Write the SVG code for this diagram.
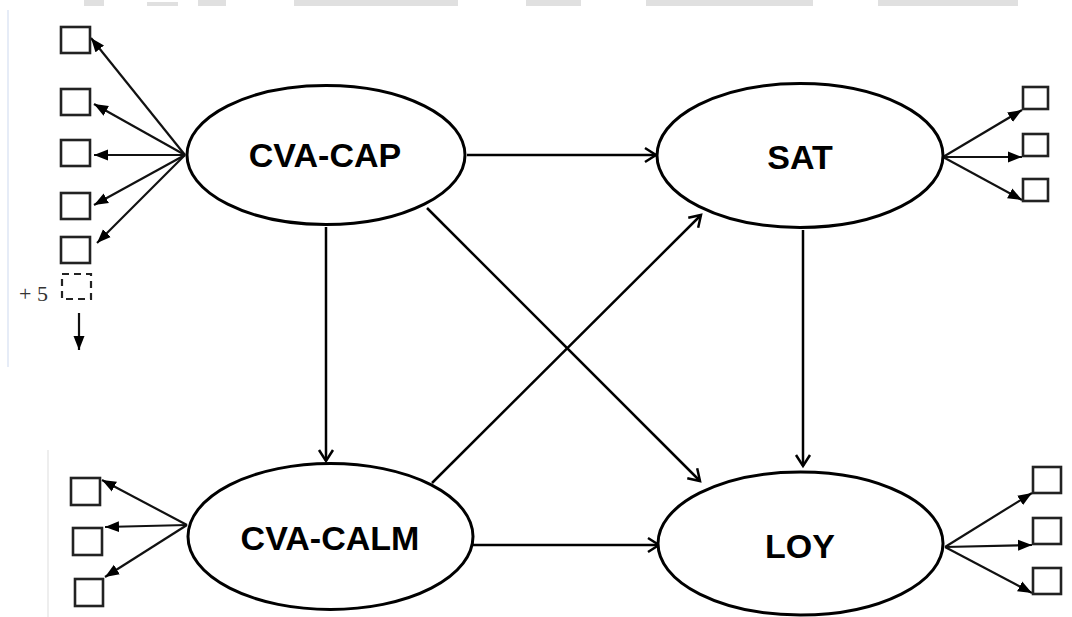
<svg xmlns="http://www.w3.org/2000/svg" width="1072" height="617" viewBox="0 0 1072 617">
<style>
.ell{fill:#fff;stroke:#000;stroke-width:3}
.lbl{font-family:"Liberation Sans",Arial,sans-serif;font-weight:bold;font-size:34px;text-anchor:middle;fill:#000}
.box{fill:#fff;stroke:#222;stroke-width:2.6}
.main{stroke:#000;stroke-width:2.5;fill:none;marker-end:url(#open)}
.ind{stroke:#111;stroke-width:2.2;fill:none;marker-end:url(#tri)}
.faint{fill:#e0e0e0}
</style>
<defs>
<marker id="open" markerWidth="16" markerHeight="18" refX="13" refY="9" orient="auto" markerUnits="userSpaceOnUse">
<path d="M2,2 L13,9 L2,16" fill="none" stroke="#000" stroke-width="2.5"/>
</marker>
<marker id="tri" markerWidth="15" markerHeight="12" refX="14" refY="6" orient="auto" markerUnits="userSpaceOnUse">
<path d="M0,0.5 L14,6 L0,11.5 z" fill="#000"/>
</marker>
</defs>
<rect width="1072" height="617" fill="#fff"/>
<g id="artifacts">
<rect class="faint" x="84" y="0" width="20" height="6"/>
<rect class="faint" x="147" y="2" width="31" height="4"/>
<rect class="faint" x="198" y="0" width="28" height="6"/>
<rect class="faint" x="294" y="0" width="164" height="6"/>
<rect class="faint" x="526" y="0" width="55" height="6"/>
<rect class="faint" x="646" y="0" width="167" height="6"/>
<rect class="faint" x="878" y="0" width="140" height="6"/>
<line x1="8" y1="10" x2="8" y2="367" stroke="#e6ecf7" stroke-width="2"/>
<line x1="48" y1="450" x2="48" y2="617" stroke="#eeeeee" stroke-width="2"/>
</g>
<g id="connectors">
<line class="main" x1="467" y1="155" x2="656" y2="155"/>
<line class="main" x1="326" y1="227" x2="326" y2="461"/>
<line class="main" x1="427" y1="208" x2="700" y2="481"/>
<line class="main" x1="432" y1="483" x2="701" y2="215"/>
<line class="main" x1="803" y1="230" x2="803" y2="466"/>
<line class="main" x1="472" y1="545" x2="659" y2="545"/>
<line class="ind" x1="185" y1="155" x2="91" y2="38"/>
<line class="ind" x1="185" y1="155" x2="94" y2="104"/>
<line class="ind" x1="185" y1="155" x2="94" y2="155"/>
<line class="ind" x1="185" y1="155" x2="94" y2="205"/>
<line class="ind" x1="185" y1="155" x2="97" y2="243"/>
<line class="ind" x1="79" y1="313" x2="79" y2="350"/>
<line class="ind" x1="943" y1="157" x2="1022" y2="110"/>
<line class="ind" x1="943" y1="157" x2="1022" y2="157"/>
<line class="ind" x1="943" y1="157" x2="1022" y2="200"/>
<line class="ind" x1="945" y1="547" x2="1032" y2="493"/>
<line class="ind" x1="945" y1="547" x2="1032" y2="545"/>
<line class="ind" x1="945" y1="547" x2="1032" y2="593"/>
<line class="ind" x1="187" y1="525" x2="102" y2="480"/>
<line class="ind" x1="187" y1="525" x2="105" y2="527"/>
<line class="ind" x1="187" y1="525" x2="105" y2="577"/>
</g>
<g id="cva-cap-indicators">
<rect class="box" x="61" y="27" width="29" height="26"/>
<rect class="box" x="61" y="89" width="29" height="26"/>
<rect class="box" x="61" y="140" width="29" height="26"/>
<rect class="box" x="61" y="193" width="29" height="26"/>
<rect class="box" x="61" y="237" width="29" height="26"/>
<rect x="62" y="274" width="29" height="25" fill="none" stroke="#222" stroke-width="2.2" stroke-dasharray="7,5"/>
<text x="19" y="301" font-family="Liberation Serif,Times New Roman,serif" font-size="22" fill="#333">+ 5</text>
</g>
<g id="sat-indicators">
<rect class="box" x="1023" y="87" width="25" height="22"/>
<rect class="box" x="1023" y="134" width="25" height="22"/>
<rect class="box" x="1023" y="179" width="25" height="22"/>
</g>
<g id="loy-indicators">
<rect class="box" x="1033" y="467" width="28" height="26"/>
<rect class="box" x="1033" y="518" width="28" height="26"/>
<rect class="box" x="1033" y="568" width="28" height="26"/>
</g>
<g id="cva-calm-indicators">
<rect class="box" x="71" y="478" width="29" height="27"/>
<rect class="box" x="73" y="528" width="29" height="27"/>
<rect class="box" x="75" y="579" width="28" height="27"/>
</g>
<g id="cva-cap">
<ellipse class="ell" cx="326" cy="155" rx="139" ry="69.5"/>
<text class="lbl" x="325" y="167">CVA-CAP</text>
</g>
<g id="sat">
<ellipse class="ell" cx="800" cy="155.5" rx="143" ry="72"/>
<text class="lbl" x="800" y="169">SAT</text>
</g>
<g id="cva-calm">
<ellipse class="ell" cx="330.5" cy="536.5" rx="142.5" ry="73"/>
<text class="lbl" x="330" y="550">CVA-CALM</text>
</g>
<g id="loy">
<ellipse class="ell" cx="800.5" cy="543.5" rx="142.5" ry="71.5"/>
<text class="lbl" x="800" y="558">LOY</text>
</g>
</svg>
